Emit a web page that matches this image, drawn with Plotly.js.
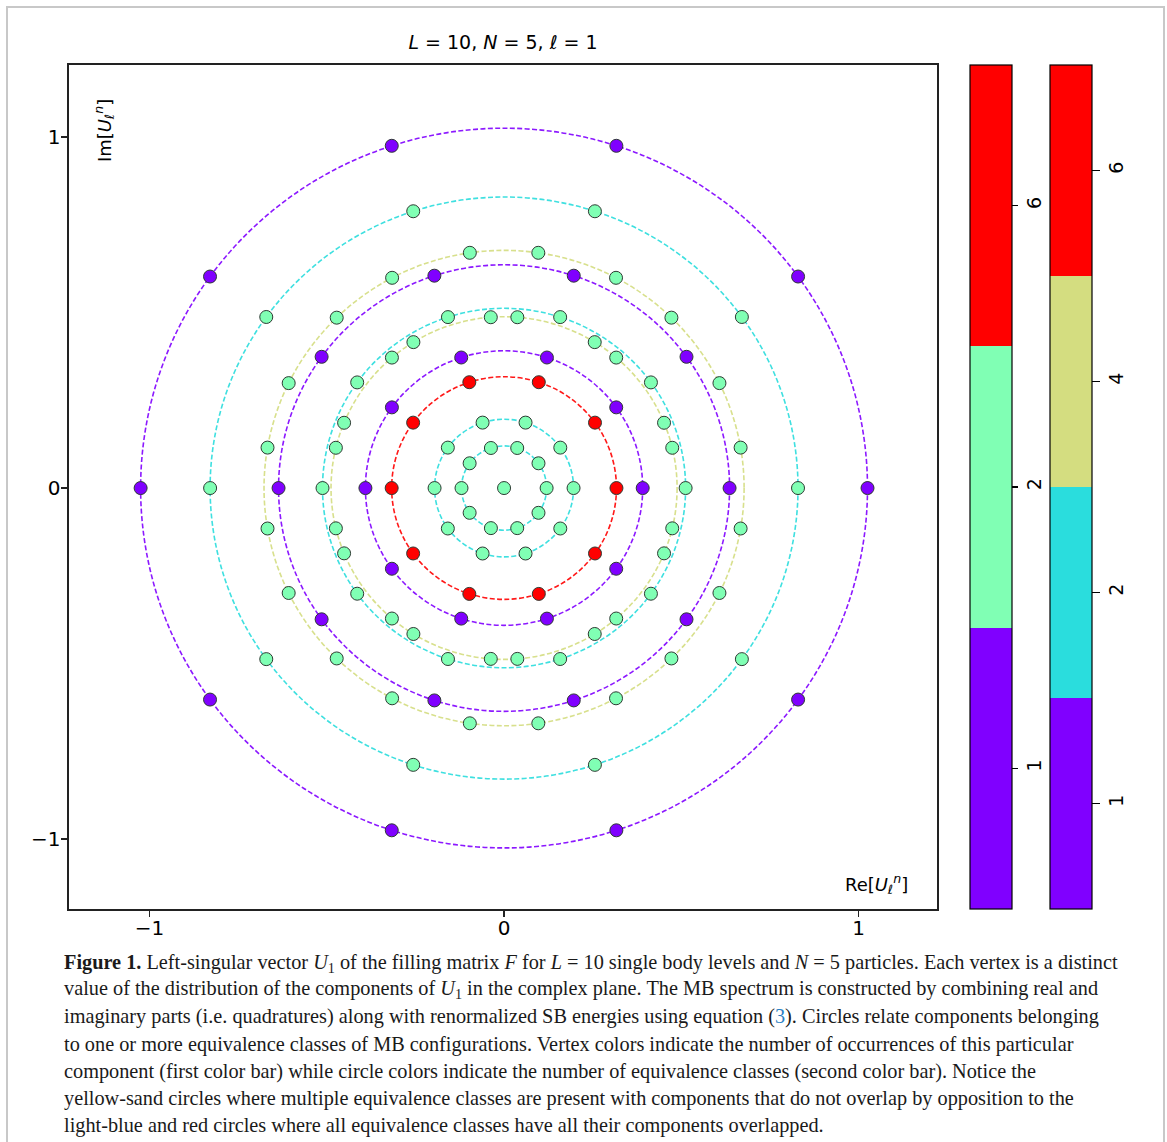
<!DOCTYPE html>
<html>
<head>
<meta charset="utf-8">
<script src="https://cdn.plot.ly/plotly-3.0.1.min.js"></script>
<style>
  html, body { margin: 0; padding: 0; background: #fff; }
  #wrap { position: relative; width: 1167px; height: 1142px; overflow: hidden; }
  #frame { position: absolute; left: 6px; top: 6px; width: 1159px; height: 1150px;
           border: 2px solid #c8c8c8; box-sizing: border-box; pointer-events: none; }
  #chart { position: absolute; left: 0; top: 0; width: 1167px; height: 1142px; }
</style>
</head>
<body>
<div id="wrap">
  <div id="chart"></div>
  <div id="frame"></div>
</div>
<script>
// ---------------- data ----------------
// radius of each dashed circle (in units of the complex plane)
const ringRadii = [0.120, 0.196, 0.317, 0.391, 0.488, 0.512, 0.636, 0.677, 0.829, 1.025];
// number of equivalence classes for each circle (circle colour, 2nd colour bar)
const ringClasses = [2, 2, 6, 1, 4, 2, 1, 4, 2, 1];
// number of occurrences of the vertices lying on each circle (vertex colour, 1st colour bar)
const ringOccurrences = [2, 2, 6, 1, 2, 2, 1, 2, 2, 1];
// angular positions (degrees) of the vertices on each circle
const anglesEvery36 = [0, 36, 72, 108, 144, 180, 216, 252, 288, 324];
const anglesInnerSand = [13.6, 22.4, 49.6, 58.4, 85.6, 94.4, 121.6, 130.4, 157.6, 166.4,
                         193.6, 202.4, 229.6, 238.4, 265.6, 274.4, 301.6, 310.4, 337.6, 346.4];
const anglesOuterSand = [9.8, 26.2, 45.8, 62.2, 81.8, 98.2, 117.8, 134.2, 153.8, 170.2,
                         189.8, 206.2, 225.8, 242.2, 261.8, 278.2, 297.8, 314.2, 333.8, 350.2];
const ringAngles = [anglesEvery36, anglesEvery36, anglesEvery36, anglesEvery36, anglesInnerSand,
                    anglesEvery36, anglesEvery36, anglesOuterSand, anglesEvery36, anglesEvery36];
// the single vertex at the origin
const centerOccurrence = 2;

// colour bars
const occurrenceTicks = [1, 2, 6];
const occurrenceColors = ['#8000ff', '#80ffb4', '#ff0000'];
const classTicks = [1, 2, 4, 6];
const classColors = ['#8000ff', '#2adddd', '#d4dd80', '#ff0000'];

const axisTickVals = [-1, 0, 1];
const axisTickText = ['\u22121', '0', '1'];

// ---------------- build figure ----------------
function discreteScale(colors) {
  const n = colors.length, s = [];
  colors.forEach((c, i) => { s.push([i / n, c]); s.push([(i + 1) / n, c]); });
  return s;
}

const vx = [0], vy = [0], vc = [occurrenceTicks.indexOf(centerOccurrence)];
ringRadii.forEach((r, i) => {
  ringAngles[i].forEach(a => {
    const t = a * Math.PI / 180;
    vx.push(r * Math.cos(t));
    vy.push(r * Math.sin(t));
    vc.push(occurrenceTicks.indexOf(ringOccurrences[i]));
  });
});

const shapes = ringRadii.map((r, i) => ({
  type: 'circle', xref: 'x', yref: 'y', layer: 'below',
  x0: -r, x1: r, y0: -r, y1: r,
  opacity: 0.9,
  line: { color: classColors[classTicks.indexOf(ringClasses[i])], width: 1.6, dash: '5px,2.4px' }
}));

const W = 1167, H = 1142;
const M = { l: 69, r: 230, t: 65, b: 233 };
const pw = W - M.l - M.r, ph = H - M.t - M.b;
const px2x = p => (p - M.l) / pw;
const px2y = p => (H - M.b - p) / ph;

const cbCommon = {
  thickness: 42, thicknessmode: 'pixels', len: 1, lenmode: 'fraction',
  y: 0.5, yanchor: 'middle', xanchor: 'left', xpad: 0, ypad: 0,
  outlinewidth: 1.2, outlinecolor: '#000',
  ticks: 'outside', ticklen: 6, tickwidth: 1.2, tickcolor: '#000',
  tickangle: -90, tickfont: { family: 'DejaVu Sans', size: 19, color: '#000' }
};

const vertexTrace = {
  type: 'scatter', mode: 'markers', x: vx, y: vy, hoverinfo: 'skip', showlegend: false,
  marker: {
    size: 13, color: vc, cmin: -0.5, cmax: occurrenceTicks.length - 0.5,
    colorscale: discreteScale(occurrenceColors),
    line: { color: '#2e3a33', width: 1 },
    showscale: true,
    colorbar: Object.assign({}, cbCommon, {
      x: px2x(970),
      tickvals: occurrenceTicks.map((_, i) => i), ticktext: occurrenceTicks.map(String)
    })
  }
};

const classTrace = {
  type: 'scatter', mode: 'markers', x: ringRadii, y: ringRadii.map(() => 0),
  hoverinfo: 'skip', showlegend: false,
  marker: {
    size: 1, opacity: 0, color: ringClasses.map(c => classTicks.indexOf(c)),
    cmin: -0.5, cmax: classTicks.length - 0.5,
    colorscale: discreteScale(classColors),
    showscale: true,
    colorbar: Object.assign({}, cbCommon, {
      x: px2x(1050), ticklen: 8,
      tickvals: classTicks.map((_, i) => i), ticktext: classTicks.map(String)
    })
  }
};

const captionLines = [
  "<b>Figure 1.</b> Left-singular vector <i>U</i><sub>1</sub> of the filling matrix <i>F</i> for <i>L</i> = 10 single body levels and <i>N</i> = 5 particles. Each vertex is a distinct",
  "value of the distribution of the components of <i>U</i><sub>1</sub> in the complex plane. The MB spectrum is constructed by combining real and",
  "imaginary parts (i.e. quadratures) along with renormalized SB energies using equation (<span style='color:#2a7fc4'>3</span>). Circles relate components belonging",
  "to one or more equivalence classes of MB configurations. Vertex colors indicate the number of occurrences of this particular",
  "component (first color bar) while circle colors indicate the number of equivalence classes (second color bar). Notice the",
  "yellow-sand circles where multiple equivalence classes are present with components that do not overlap by opposition to the",
  "light-blue and red circles where all equivalence classes have all their components overlapped."
];

const annotations = captionLines.map((t, i) => ({
  text: t, xref: 'paper', yref: 'paper', x: px2x(62), y: px2y(963 + i * 27),
  xanchor: 'left', yanchor: 'middle', showarrow: false, align: 'left',
  font: { family: 'Liberation Serif', size: 20.3, color: '#1a1a1a' }
}));

annotations.push({
  text: 'Im[<i>U</i><sub>\u2113</sub><sup><i>n</i></sup>]', xref: 'paper', yref: 'paper',
  x: px2x(104), y: px2y(131), textangle: -90, showarrow: false,
  xanchor: 'center', yanchor: 'middle',
  font: { family: 'DejaVu Sans', size: 18, color: '#000' }
});
annotations.push({
  text: 'Re[<i>U</i><sub>\u2113</sub><sup><i>n</i></sup>]', xref: 'paper', yref: 'paper',
  x: px2x(876), y: px2y(884), showarrow: false,
  xanchor: 'center', yanchor: 'middle',
  font: { family: 'DejaVu Sans', size: 18, color: '#000' }
});

const axisCommon = {
  showgrid: false, zeroline: false, showline: true, mirror: true,
  linecolor: '#222', linewidth: 1.6,
  ticks: 'outside', ticklen: 6, tickwidth: 1.4, tickcolor: '#222',
  tickvals: axisTickVals, ticktext: axisTickText,
  tickfont: { family: 'DejaVu Sans', size: 20, color: '#000' }
};

const layout = {
  width: W, height: H, margin: M,
  paper_bgcolor: '#fff', plot_bgcolor: '#fff',
  title: {
    text: '<i>L</i> = 10, <i>N</i> = 5, <i>\u2113</i> = 1',
    xref: 'paper', x: 0.5, xanchor: 'center',
    yref: 'container', y: 1 - 42 / H, yanchor: 'middle',
    font: { family: 'DejaVu Sans', size: 19, color: '#000' }
  },
  xaxis: Object.assign({}, axisCommon, { range: [-1.227, 1.221], ticklabelstandoff: -6 }),
  yaxis: Object.assign({}, axisCommon, { range: [-1.199, 1.205], ticklabelstandoff: -3 }),
  shapes: shapes,
  annotations: annotations,
  showlegend: false
};

Plotly.newPlot('chart', [classTrace, vertexTrace], layout, { staticPlot: true, displayModeBar: false });
</script>
</body>
</html>
